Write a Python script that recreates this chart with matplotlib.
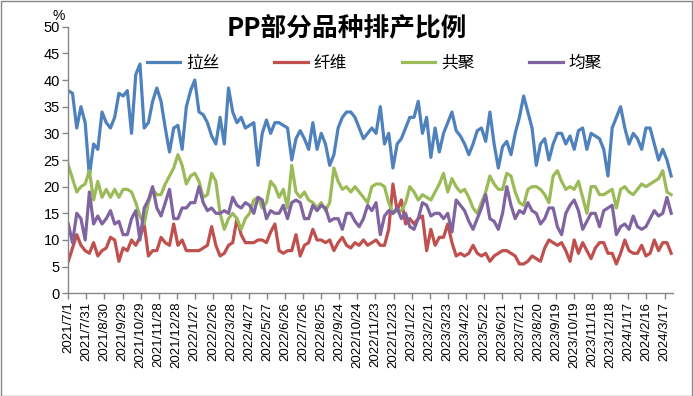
import matplotlib
matplotlib.use("Agg")
import matplotlib.pyplot as plt
import matplotlib.patches as mpatches
import pandas as pd

plt.rcParams['font.family'] = ['Liberation Sans', 'Noto Sans CJK SC', 'DejaVu Sans']

# weekly sampling dates
dates = pd.date_range('2021-07-01', periods=144, freq='7D')

lasi = [38, 37.5, 31, 35, 32, 22, 28, 27, 34, 32, 31, 33, 37.5, 37, 38, 30, 41, 43, 31, 32,
        36, 38.5, 36, 31, 26.5, 31, 31.5, 27, 35, 38, 40, 34, 33.5, 32, 29.5, 28, 33, 28, 38.5, 34,
        32, 33, 31, 31.5, 32, 24, 30, 32.5, 30, 32, 32, 31.5, 31, 25, 29, 30.5, 29, 27, 32, 27,
        30, 28, 24, 26, 31, 33, 34, 34, 33, 31, 29, 30, 31, 30, 35, 28, 30, 23.5, 28, 29,
        31, 33, 33, 36, 30, 33, 25.5, 31, 26.5, 30, 32, 34, 30.5, 29.5, 28, 26, 28, 30.5, 31, 28.5,
        34, 28, 23.5, 27.5, 28.5, 26, 30, 33, 37, 34, 31, 24, 28, 29, 25, 28, 30, 30, 28, 29.5,
        27, 30.5, 31, 27, 30, 29.5, 29, 27, 22, 31, 33, 35, 31, 28, 30, 29, 27, 31, 31, 28,
        25, 27, 25, 22]

xianwei = [6, 8.5, 11, 9, 8, 7.5, 9.5, 7, 8, 8.5, 10.5, 10, 6, 8.5, 8, 10, 9, 10.5, 13, 7,
           8, 8, 10.5, 9.5, 9, 13, 9, 10, 8, 8, 8, 8, 8.5, 9, 12.5, 9, 7, 7.5, 9, 9.5,
           14, 11, 9.5, 9.5, 9.5, 10, 10, 9.5, 11.5, 13, 8, 7.5, 8, 8, 11, 7, 9, 9.5, 12, 10,
           10, 9.5, 10, 8, 9.5, 10.5, 9, 8.5, 9.5, 9, 10, 9, 9.5, 10, 9, 9, 12, 20.5, 15.5, 17.5,
           13, 14, 13, 14, 14.5, 8, 12, 9, 10.5, 10.5, 13, 9.5, 7, 7.5, 7, 7.5, 9, 7.5, 7, 7.5,
           6, 7, 7.5, 8, 8, 7.5, 7, 5.5, 5.5, 6, 7, 6.5, 6, 8.5, 10, 9.5, 9, 9.5, 8, 6,
           10, 7.5, 9.5, 8, 6.5, 8.5, 9.5, 9.5, 7.5, 7.5, 5.5, 7.5, 10, 8, 7.5, 7.5, 9, 7, 7.5, 10,
           8, 9.5, 9.5, 7.5]

gongju = [24, 21.5, 19, 20, 20.5, 23, 17.5, 21, 18, 19.5, 18, 19.5, 18, 19.5, 19.5, 19, 17, 14.5, 13, 17,
          19.5, 18.5, 18.5, 20.5, 22, 23.5, 26, 24, 20.5, 22, 22.5, 21, 18, 18.5, 22.5, 21, 15, 12, 14, 15,
          14, 12, 14, 15, 17.5, 18, 16, 17, 21, 20, 18, 19.5, 16, 24, 19, 18, 19, 17.5, 17, 16,
          17, 15.5, 17, 23.5, 21, 19.5, 20, 19, 20, 19, 18, 17, 20, 20.5, 20.5, 20, 17, 15, 15.5, 15.5,
          17, 20, 19, 17.5, 18.5, 18, 17.5, 19, 20.5, 22.5, 19, 21.5, 20, 19, 19.5, 18, 16, 15, 17, 19,
          22, 20.5, 19.5, 19.5, 22.5, 22, 19, 17, 16.5, 19.5, 20, 20, 19.5, 18.5, 17, 22, 23, 21, 19.5, 20,
          19.5, 21, 18, 15, 20, 20, 18.5, 18.5, 19, 19.5, 16, 19.5, 20, 19, 18.5, 19.5, 20.5, 20, 20.5, 21,
          21.5, 23, 19, 18.5]

junju = [13, 9.5, 15, 14, 10, 19, 13, 14.5, 13, 14, 15.5, 13, 13.5, 11, 11, 14, 15.5, 10, 16, 17.5,
         20, 16, 14.5, 17, 19.5, 14, 14, 16, 16, 17, 17, 20, 17, 15.5, 16, 15, 15, 15.5, 15, 18,
         16.5, 16, 17, 16.5, 15, 18, 17.5, 14, 15.5, 15, 15, 16.5, 14, 17, 17.5, 17, 14, 14, 16.5, 15.5,
         16.5, 16, 13.5, 14, 14, 12, 15, 15, 13.5, 12.5, 14, 16.5, 15.5, 17, 11, 14.5, 15.5, 15, 16, 14,
         15, 12.5, 12, 14, 17, 16.5, 14.5, 15, 15, 14, 15, 11.5, 17.5, 16.5, 15.5, 13.5, 12, 14, 16, 18.5,
         14, 13.5, 12, 15, 20, 16.5, 14, 15.5, 15, 17, 15.5, 15, 13, 14, 16, 16, 12.5, 11, 15, 16.5,
         17.5, 15.5, 12, 13.5, 15, 15, 12.5, 15.5, 16, 16.5, 11, 12.5, 13, 12, 14.5, 12.5, 12, 12.5, 14, 15.5,
         14.5, 15, 18, 15]

series_names = ['拉丝', '纤维', '共聚', '均聚']
colors = ['#4F81BD', '#C0504D', '#9BBB59', '#8064A2']
title = 'PP部分品种排产比例'
yticks = list(range(0, 51, 5))

fig = plt.figure(figsize=(6.93, 3.96), dpi=100)
ax = fig.add_axes([68.3 / 693, 1 - 293.3 / 396, (673 - 68.3) / 693, (293.3 - 26.7) / 396])

for vals, name, c in zip([lasi, xianwei, gongju, junju], series_names, colors):
    ax.plot(dates, vals, color=c, lw=2.3, label=name, solid_joinstyle='round')

start = pd.Timestamp('2021-07-01')
tick_dates = [start + pd.Timedelta(days=30 * k) for k in range(34)]
ax.set_xticks(tick_dates)
ax.set_xticklabels([f"{d.year}/{d.month}/{d.day}" for d in tick_dates], rotation=90, fontsize=9.5)
ax.set_xlim(start, start + pd.Timedelta(days=1004))
ax.set_ylim(0, 50)
ax.set_yticks(yticks)
ax.set_yticklabels([str(v) for v in yticks], fontsize=10.5)

for s in ['top', 'right']:
    ax.spines[s].set_visible(False)
for s in ['left', 'bottom']:
    ax.spines[s].set_color('#868686')
    ax.spines[s].set_linewidth(1.0)
ax.tick_params(axis='both', colors='#868686', labelcolor='black', length=4, width=1, direction='out')
ax.tick_params(axis='y', pad=2)
ax.tick_params(axis='x', pad=2)

leg = ax.legend(loc='center', bbox_to_anchor=(0.506, 0.8636), ncol=4, frameon=False,
                prop={'family': ['Noto Sans CJK SC'], 'size': 12},
                handlelength=2.0, handletextpad=0.35, columnspacing=3.3)

fig.text(347 / 693, 1 - 28 / 396, title, ha='center', va='center', fontsize=18.5, fontweight='bold',
         family=['Noto Sans CJK SC'])
fig.text(59 / 693, 1 - 16 / 396, '%', ha='center', va='center', fontsize=10)

fig.patches.append(mpatches.Rectangle((0.5 / 693, 0.5 / 396), 691.5 / 693, 394.5 / 396,
                                      transform=fig.transFigure, fill=False, edgecolor='#868686', lw=1))

fig.savefig('out.png', dpi=100)
